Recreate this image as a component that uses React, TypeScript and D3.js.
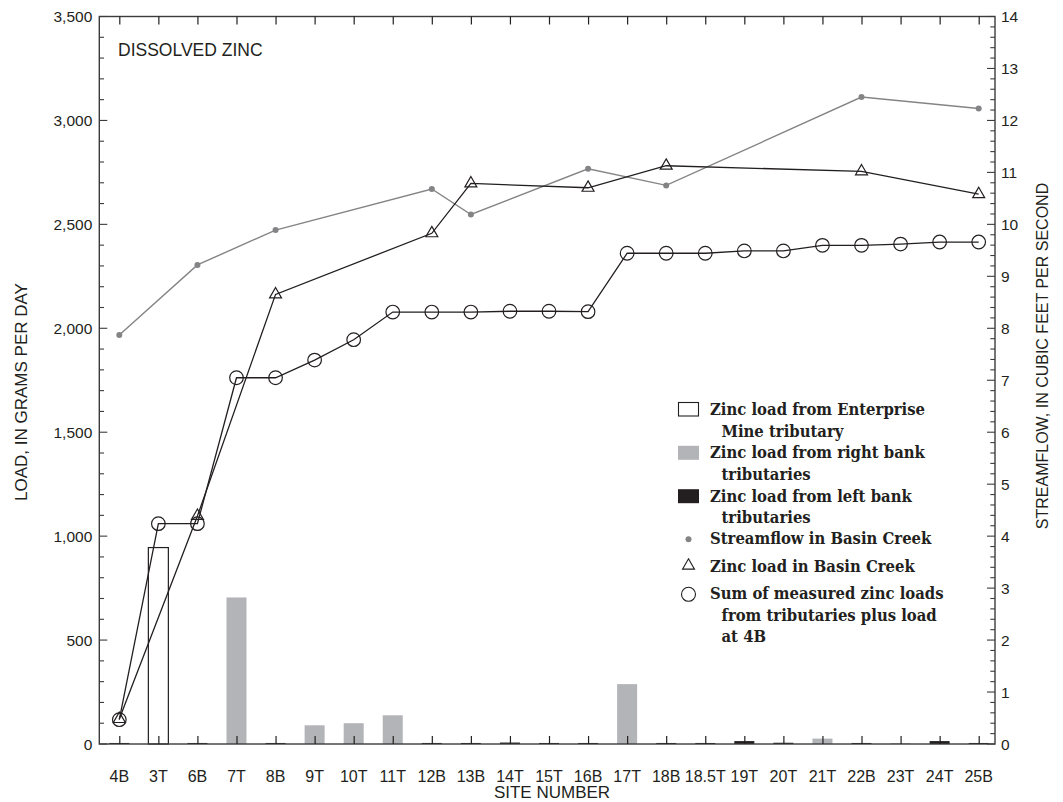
import { useEffect, useRef } from "react";
import * as d3 from "d3";

const sites = [
  "4B", "3T", "6B", "7T", "8B", "9T", "10T", "11T", "12B", "13B", "14T", "15T",
  "16B", "17T", "18B", "18.5T", "19T", "20T", "21T", "22B", "23T", "24T", "25B",
];

// zinc load from the Enterprise Mine tributary (g/day)
const mineSites = ["3T"];
const mineLoad = [945];

// right bank tributaries (g/day)
const rightSites = ["7T", "9T", "10T", "11T", "17T", "21T", "23T"];
const rightLoad = [705, 90, 100, 138, 288, 26, 4];

// left bank tributaries (g/day), mostly tiny
const leftSites = [
  "4B", "6B", "8B", "12B", "13B", "14T", "15T", "16B", "18B", "18.5T", "19T",
  "20T", "22B", "24T", "25B",
];
const leftLoad = [5, 5, 5, 5, 5, 7, 5, 5, 5, 5, 14, 6, 5, 14, 5];

// main-stem sites
const mainSites = ["4B", "6B", "8B", "12B", "13B", "16B", "18B", "22B", "25B"];
const streamflow = [7.87, 9.22, 9.89, 10.68, 10.19, 11.07, 10.75, 12.45, 12.23];
const basinLoad = [120, 1097, 2163, 2457, 2697, 2676, 2782, 2755, 2645];

// cumulative sum of measured loads plus load at 4B
const sumLoad = [
  117, 1060, 1060, 1762, 1762, 1847, 1945, 2078, 2078, 2078, 2082, 2082, 2080,
  2361, 2361, 2361, 2372, 2372, 2399, 2399, 2405, 2415, 2415,
];

const legendItems = [
  { key: "mine", lines: ["Zinc load from Enterprise", "Mine tributary"] },
  { key: "right", lines: ["Zinc load from right bank", "tributaries"] },
  { key: "left", lines: ["Zinc load from left bank", "tributaries"] },
  { key: "flow", lines: ["Streamflow in Basin Creek"] },
  { key: "tri", lines: ["Zinc load in Basin Creek"] },
  { key: "circ", lines: ["Sum of measured zinc loads", "from tributaries plus load", "at 4B"] },
];

const INK = "#231f20";
const GREY_BAR = "#b3b4b7";
const GREY_LINE = "#848486";
const SANS = "'Liberation Sans', Arial, Helvetica, sans-serif";
const SERIF = "'DejaVu Serif Condensed', 'DejaVu Serif', serif";

export default function App() {
  const svgRef = useRef<SVGSVGElement>(null);

  useEffect(() => {
    const svg = d3.select(svgRef.current);
    svg.selectAll("*").remove();

    const width = 1063;
    const height = 802;
    const plot = { left: 99.3, right: 995, top: 16.5, bottom: 744 };

    const x = d3
      .scalePoint<string>()
      .domain(sites)
      .range([plot.left + 20, plot.right - 16.3]);

    const yLoad = d3.scaleLinear().domain([0, 3500]).range([plot.bottom, plot.top]);
    const yFlow = d3.scaleLinear().domain([0, 14]).range([plot.bottom, plot.top]);

    const barW = 20;

    svg.append("rect").attr("width", width).attr("height", height).attr("fill", "#fff");

    // bars
    const drawBars = (cats: string[], vals: number[], fill: string, stroke: string) => {
      svg
        .append("g")
        .selectAll("rect")
        .data(cats.map((c, i) => ({ c, v: vals[i] })))
        .enter()
        .append("rect")
        .attr("x", (d) => (x(d.c) as number) - barW / 2)
        .attr("y", (d) => yLoad(d.v))
        .attr("width", barW)
        .attr("height", (d) => yLoad(0) - yLoad(d.v))
        .attr("fill", fill)
        .attr("stroke", stroke)
        .attr("stroke-width", stroke === "none" ? 0 : 1.2);
    };
    drawBars(mineSites, mineLoad, "#fff", INK);
    drawBars(rightSites, rightLoad, GREY_BAR, "none");
    drawBars(leftSites, leftLoad, INK, "none");

    // frame
    svg
      .append("rect")
      .attr("x", plot.left)
      .attr("y", plot.top)
      .attr("width", plot.right - plot.left)
      .attr("height", plot.bottom - plot.top)
      .attr("fill", "none")
      .attr("stroke", "#3c3c3e")
      .attr("stroke-width", 1.4);

    // category ticks, top and bottom, pointing inward
    svg
      .append("g")
      .attr("transform", `translate(0,${plot.bottom})`)
      .call(d3.axisBottom(x).tickSize(-8).tickFormat(() => ""))
      .call((g) => g.select(".domain").remove())
      .selectAll("line")
      .attr("stroke", INK)
      .attr("stroke-width", 1.2);

    svg
      .append("g")
      .attr("transform", `translate(0,${plot.top})`)
      .call(d3.axisTop(x).tickSize(-8).tickFormat(() => ""))
      .call((g) => g.select(".domain").remove())
      .selectAll("line")
      .attr("stroke", INK)
      .attr("stroke-width", 1.2);

    // category labels
    svg
      .append("g")
      .selectAll("text")
      .data(sites)
      .enter()
      .append("text")
      .attr("x", (d) => x(d) as number)
      .attr("y", 782)
      .attr("text-anchor", "middle")
      .attr("font-family", SANS)
      .attr("font-size", 16)
      .attr("fill", INK)
      .text((d) => d);

    // left axis ticks
    const leftMinor = d3.range(0, 3501, 100);
    svg
      .append("g")
      .selectAll("line")
      .data(leftMinor)
      .enter()
      .append("line")
      .attr("x1", plot.left)
      .attr("x2", (d) => plot.left + (d % 500 === 0 ? 8 : 4.7))
      .attr("y1", (d) => yLoad(d))
      .attr("y2", (d) => yLoad(d))
      .attr("stroke", "#3c3c3e")
      .attr("stroke-width", 1.1);

    svg
      .append("g")
      .selectAll("text")
      .data(yLoad.ticks(7))
      .enter()
      .append("text")
      .attr("x", plot.left - 7)
      .attr("y", (d) => yLoad(d))
      .attr("dy", "0.36em")
      .attr("text-anchor", "end")
      .attr("font-family", SANS)
      .attr("font-size", 15.5)
      .attr("fill", INK)
      .text((d) => d3.format(",")(d));

    // right axis ticks
    const rightMinor = d3.range(0, 70.1, 1).map((d) => d / 5);
    svg
      .append("g")
      .selectAll("line")
      .data(rightMinor)
      .enter()
      .append("line")
      .attr("x1", plot.right)
      .attr("x2", (d, i) => plot.right - (i % 5 === 0 ? 8 : 4.7))
      .attr("y1", (d) => yFlow(d))
      .attr("y2", (d) => yFlow(d))
      .attr("stroke", "#3c3c3e")
      .attr("stroke-width", 1.1);

    svg
      .append("g")
      .selectAll("text")
      .data(d3.range(0, 15))
      .enter()
      .append("text")
      .attr("x", plot.right + 6)
      .attr("y", (d) => yFlow(d))
      .attr("dy", "0.36em")
      .attr("font-family", SANS)
      .attr("font-size", 15.5)
      .attr("fill", INK)
      .text((d) => d);

    // axis titles
    svg
      .append("text")
      .attr("transform", "translate(27,392) rotate(-90)")
      .attr("text-anchor", "middle")
      .attr("font-family", SANS)
      .attr("font-size", 17)
      .attr("fill", INK)
      .text("LOAD, IN GRAMS PER DAY");

    svg
      .append("text")
      .attr("transform", "translate(1048,356) rotate(-90)")
      .attr("text-anchor", "middle")
      .attr("font-family", SANS)
      .attr("font-size", 16)
      .attr("fill", INK)
      .text("STREAMFLOW, IN CUBIC FEET PER SECOND");

    svg
      .append("text")
      .attr("x", 552)
      .attr("y", 798)
      .attr("text-anchor", "middle")
      .attr("font-family", SANS)
      .attr("font-size", 17)
      .attr("fill", INK)
      .text("SITE NUMBER");

    svg
      .append("text")
      .attr("x", 118)
      .attr("y", 56)
      .attr("font-family", SANS)
      .attr("font-size", 17.5)
      .attr("fill", INK)
      .text("DISSOLVED ZINC");

    // streamflow line
    const flowPts = mainSites.map((s, i) => [x(s) as number, yFlow(streamflow[i])] as [number, number]);
    svg
      .append("path")
      .attr("d", d3.line()(flowPts))
      .attr("fill", "none")
      .attr("stroke", GREY_LINE)
      .attr("stroke-width", 1.4);
    svg
      .append("g")
      .selectAll("circle")
      .data(flowPts)
      .enter()
      .append("circle")
      .attr("cx", (d) => d[0])
      .attr("cy", (d) => d[1])
      .attr("r", 3)
      .attr("fill", GREY_LINE);

    // zinc load in Basin Creek
    const triPts = mainSites.map((s, i) => [x(s) as number, yLoad(basinLoad[i])] as [number, number]);
    svg
      .append("path")
      .attr("d", d3.line()(triPts))
      .attr("fill", "none")
      .attr("stroke", INK)
      .attr("stroke-width", 1.3);
    const tri = d3.symbol().type(d3.symbolTriangle).size(62);
    svg
      .append("g")
      .selectAll("path")
      .data(triPts)
      .enter()
      .append("path")
      .attr("transform", (d) => `translate(${d[0]},${d[1]})`)
      .attr("d", tri())
      .attr("fill", "none")
      .attr("stroke", INK)
      .attr("stroke-width", 1.2);

    // cumulative sum
    const sumPts = sites.map((s, i) => [x(s) as number, yLoad(sumLoad[i])] as [number, number]);
    svg
      .append("path")
      .attr("d", d3.line()(sumPts))
      .attr("fill", "none")
      .attr("stroke", INK)
      .attr("stroke-width", 1.3);
    svg
      .append("g")
      .selectAll("circle")
      .data(sumPts)
      .enter()
      .append("circle")
      .attr("cx", (d) => d[0])
      .attr("cy", (d) => d[1])
      .attr("r", 6.8)
      .attr("fill", "none")
      .attr("stroke", INK)
      .attr("stroke-width", 1.2);

    // legend
    const lg = svg.append("g").attr("transform", "translate(678,415)");
    const lineH = 21.6;
    const gaps = [0, 43.3, 86.7, 129.3, 156.7, 184.3];
    legendItems.forEach((item, i) => {
      const g = lg.append("g").attr("transform", `translate(0,${gaps[i]})`);
      const sx = 10.5;
      if (item.key === "mine") {
        g.append("rect").attr("x", 0.5).attr("y", -12.5).attr("width", 20).attr("height", 13.5)
          .attr("fill", "#fff").attr("stroke", INK).attr("stroke-width", 1.1);
      } else if (item.key === "right") {
        g.append("rect").attr("x", 0).attr("y", -12.5).attr("width", 21).attr("height", 14).attr("fill", GREY_BAR);
      } else if (item.key === "left") {
        g.append("rect").attr("x", 0).attr("y", -12.5).attr("width", 21).attr("height", 14).attr("fill", INK);
      } else if (item.key === "flow") {
        g.append("circle").attr("cx", sx).attr("cy", -5).attr("r", 3).attr("fill", GREY_LINE);
      } else if (item.key === "tri") {
        g.append("path").attr("transform", `translate(${sx},-6)`).attr("d", tri())
          .attr("fill", "none").attr("stroke", INK).attr("stroke-width", 1.1);
      } else {
        g.append("circle").attr("cx", sx).attr("cy", -5).attr("r", 7)
          .attr("fill", "none").attr("stroke", INK).attr("stroke-width", 1.1);
      }
      item.lines.forEach((t, j) => {
        g.append("text")
          .attr("x", j === 0 ? 32 : 43.5)
          .attr("y", j * lineH)
          .attr("font-family", SERIF)
          .attr("font-weight", "bold")
          .attr("font-size", 16.5)
          .attr("fill", INK)
          .text(t);
      });
    });
  }, []);

  return (
    <svg
      ref={svgRef}
      width={1063}
      height={802}
      style={{ position: "absolute", left: 0, top: 0 }}
    />
  );
}
